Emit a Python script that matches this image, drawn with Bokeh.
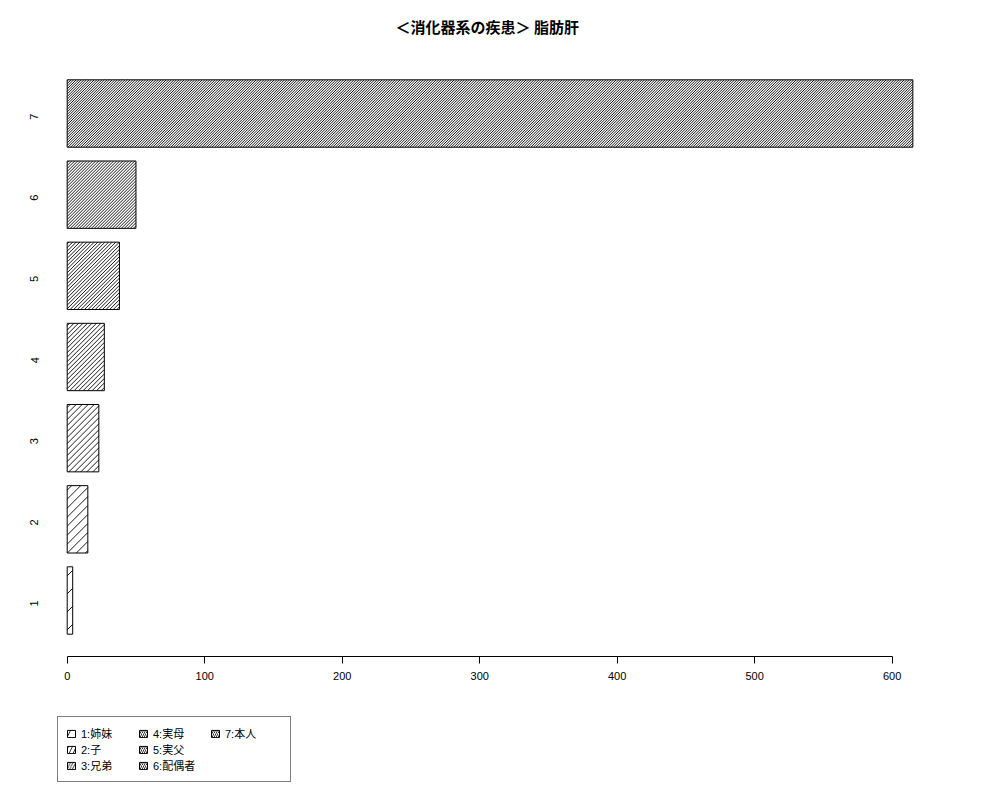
from bokeh.plotting import figure
from bokeh.models import Legend, LegendItem, Label
from bokeh.layouts import column
from bokeh.embed import file_html
from bokeh.resources import INLINE
import math

# data
categories = ["1", "2", "3", "4", "5", "6", "7"]
values = [4, 15, 23, 27, 38, 50, 615]
labels = ["1:姉妹", "2:子", "3:兄弟", "4:実母", "5:実父", "6:配偶者", "7:本人"]
x_ticks = [0, 100, 200, 300, 400, 500, 600]
title = "＜消化器系の疾患＞ 脂肪肝"

ypos = list(range(1, len(categories) + 1))
BAR_H = 0.83
X_START, X_END = -13.6, 639.5
Y_START, Y_END = 0.31, 7.69
FRAME_W, FRAME_H = 898, 599


def strip(height):
    f = figure(width=984, height=height, output_backend="svg", toolbar_location=None,
               x_range=(0, 1), y_range=(0, 1), min_border=0)
    f.axis.visible = False
    f.xgrid.visible = False
    f.ygrid.visible = False
    f.outline_line_color = None
    return f


# title strip
head = strip(57)
head.add_layout(Label(x=347, y=31, x_units="screen", y_units="screen", text=title,
                      text_font="Noto Sans CJK JP", text_font_size="15px",
                      text_font_style="bold", text_color="black",
                      text_align="left", text_baseline="middle"))

p = figure(frame_width=FRAME_W, frame_height=FRAME_H, output_backend="svg", toolbar_location=None,
           x_range=(X_START, X_END), y_range=(Y_START, Y_END), title=None,
           min_border_left=48, min_border_right=38, min_border_top=0, min_border_bottom=40)

p.hbar(y=ypos, right=values, left=0, height=BAR_H,
       fill_color="white", line_color="black", line_width=1)

# 45 degree shading lines, denser for each next bar (R style density)
kx = FRAME_W / (X_END - X_START)
ky = FRAME_H / (Y_END - Y_START)
hx, hy = [], []
for i, v in enumerate(values):
    step = 18.0 / (i + 1)
    w = v * kx
    h = BAR_H * ky
    y0 = ypos[i] - BAR_H / 2
    c = -h + step / 2
    while c < w:
        xa = max(0.0, c)
        xb = min(w, h + c)
        if xb > xa:
            hx.append([xa / kx, xb / kx])
            hy.append([y0 + (xa - c) / ky, y0 + (xb - c) / ky])
        c += step
p.multi_line(hx, hy, line_color="black", line_width=0.9)

p.xgrid.visible = False
p.ygrid.visible = False
p.outline_line_color = None

p.xaxis.ticker = x_ticks
p.xaxis.bounds = (0, 600)
p.xaxis.major_tick_out = 7
p.xaxis.major_tick_in = 0
p.xaxis.minor_tick_line_color = None
p.xaxis.major_label_standoff = 8
p.xaxis.axis_line_color = "black"
p.xaxis.major_tick_line_color = "black"

p.yaxis.ticker = ypos
p.yaxis.major_label_overrides = {y: c for y, c in zip(ypos, categories)}
p.yaxis.axis_line_color = None
p.yaxis.major_tick_line_color = None
p.yaxis.minor_tick_line_color = None
p.yaxis.major_tick_out = 0
p.yaxis.major_label_orientation = math.pi / 2
p.yaxis.major_label_standoff = 14

for ax in (p.xaxis, p.yaxis):
    ax.major_label_text_font = "Liberation Sans"
    ax.major_label_text_font_size = "11px"
    ax.major_label_text_color = "black"

# legend strip under the chart
leg = strip(94)
items = []
for i, lab in enumerate(labels):
    r = leg.hbar(y=[ypos[i]], right=[values[i]], left=0, height=BAR_H,
                 fill_color="white", line_color="black", line_width=1,
                 hatch_pattern="/", hatch_color="black", hatch_weight=0.8,
                 hatch_scale=max(4.0, 16.0 / (i + 1)), visible=False)
    items.append(LegendItem(label=lab, renderers=[r]))

legend = Legend(items=items, nrows=3, location=(9, 8),
                label_text_font="Liberation Sans, 'Noto Sans CJK JP'", label_text_font_size="11px",
                label_text_color="black",
                glyph_width=10, glyph_height=9, label_height=11, label_width=57, spacing=0,
                label_standoff=5, padding=8, margin=0,
                inactive_fill_alpha=0,
                border_line_color="black", border_line_width=1,
                background_fill_alpha=1.0)
leg.add_layout(legend, "center")

open("out.html", "w").write(file_html(column(head, p, leg, spacing=0), INLINE))
